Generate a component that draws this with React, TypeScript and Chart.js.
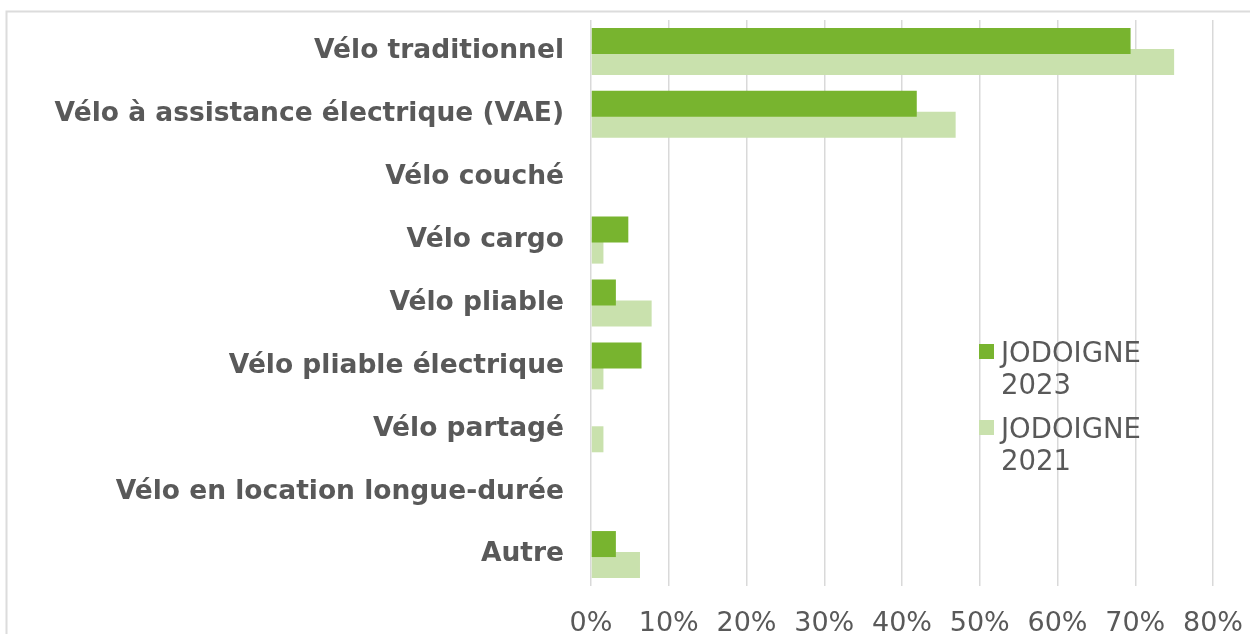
import React, { useEffect, useRef } from 'react';
import { Chart, registerables } from 'chart.js';

Chart.register(...registerables);

const categories = [
  'Vélo traditionnel',
  'Vélo à assistance électrique (VAE)',
  'Vélo couché',
  'Vélo cargo',
  'Vélo pliable',
  'Vélo pliable électrique',
  'Vélo partagé',
  'Vélo en location longue-durée',
  'Autre',
];
const series2023 = [69.4, 41.9, 0, 4.8, 3.2, 6.5, 0, 0, 3.2];
const series2021 = [75.0, 46.9, 0, 1.6, 7.8, 1.6, 1.6, 0, 6.3];
const seriesLabels = ['JODOIGNE 2023', 'JODOIGNE 2021'];
const seriesColors = ['#78b42f', '#c9e1ad'];
const xMin = 0;
const xMax = 80;
const xStep = 10;

const TEXT = '#595959';
const FONT = 'DejaVu Sans, Verdana, sans-serif';

export default function App() {
  const ref = useRef<HTMLCanvasElement | null>(null);

  useEffect(() => {
    const canvas = ref.current;
    if (!canvas) return;

    const framePlugin = {
      id: 'frame',
      beforeDraw(chart: any) {
        const ctx = chart.ctx;
        ctx.save();
        ctx.strokeStyle = '#dcdcdc';
        ctx.lineWidth = 2;
        ctx.beginPath();
        ctx.moveTo(6.5, 700);
        ctx.lineTo(6.5, 11.5);
        ctx.lineTo(1300, 11.5);
        ctx.stroke();
        ctx.restore();
      },
    };

    const legendPlugin = {
      id: 'customLegend',
      afterDraw(chart: any) {
        const ctx = chart.ctx;
        ctx.save();
        ctx.font = `27.5px ${FONT}`;
        ctx.textBaseline = 'alphabetic';
        ctx.textAlign = 'left';
        const boxX = 979;
        const boxSize = 15;
        const top = 344;
        const entryGap = 76;
        const lineGap = 32.5;
        chart.data.datasets.forEach((ds: any, i: number) => {
          const y = top + i * entryGap;
          ctx.fillStyle = ds.backgroundColor;
          ctx.fillRect(boxX, y, boxSize, boxSize);
          ctx.fillStyle = TEXT;
          const lines = String(ds.label).split(' ');
          lines.forEach((ln: string, j: number) => {
            ctx.fillText(ln, 1001, y + 17.5 + j * lineGap);
          });
        });
        ctx.restore();
      },
    };

    const zeroPadding = (s: any) => {
      s.paddingTop = 0;
      s.paddingBottom = 0;
      s.paddingLeft = 0;
      s.paddingRight = 0;
    };

    const chart = new Chart(canvas, {
      type: 'bar',
      data: {
        labels: categories,
        datasets: [
          { label: seriesLabels[0], data: series2023, backgroundColor: seriesColors[0], borderWidth: 0 },
          { label: seriesLabels[1], data: series2021, backgroundColor: seriesColors[1], borderWidth: 0 },
        ],
      },
      options: {
        indexAxis: 'y',
        responsive: false,
        animation: false,
        datasets: {
          bar: { categoryPercentage: 0.668, barPercentage: 1.238 },
        },
        layout: { padding: { top: 20, right: 37, left: 0, bottom: 0 } },
        plugins: {
          legend: { display: false },
          tooltip: { enabled: false },
        },
        scales: {
          x: {
            min: xMin,
            max: xMax,
            ticks: {
              stepSize: xStep,
              callback: (v: any) => `${v}%`,
              color: TEXT,
              font: { family: FONT, size: 27 },
              padding: 22,
              maxRotation: 0,
              autoSkip: false,
            },
            grid: { color: '#d9d9d9', lineWidth: 1.5, drawTicks: false },
            border: { display: false },
            afterFit: (s: any) => {
              s.height = 48;
              zeroPadding(s);
            },
          },
          y: {
            ticks: {
              color: TEXT,
              font: { family: FONT, size: 26.5, weight: 'bold' },
              padding: 27,
              autoSkip: false,
            },
            grid: { display: false, drawTicks: false },
            border: { display: false },
            afterFit: (s: any) => {
              s.width = 591;
              zeroPadding(s);
            },
          },
        },
      },
      plugins: [framePlugin, legendPlugin],
    } as any);

    return () => chart.destroy();
  }, []);

  return (
    <div style={{ position: 'absolute', left: 0, top: 0, width: 1250, height: 634, overflow: 'hidden', background: '#fff' }}>
      <canvas ref={ref} width={1250} height={634} style={{ display: 'block' }} />
    </div>
  );
}
